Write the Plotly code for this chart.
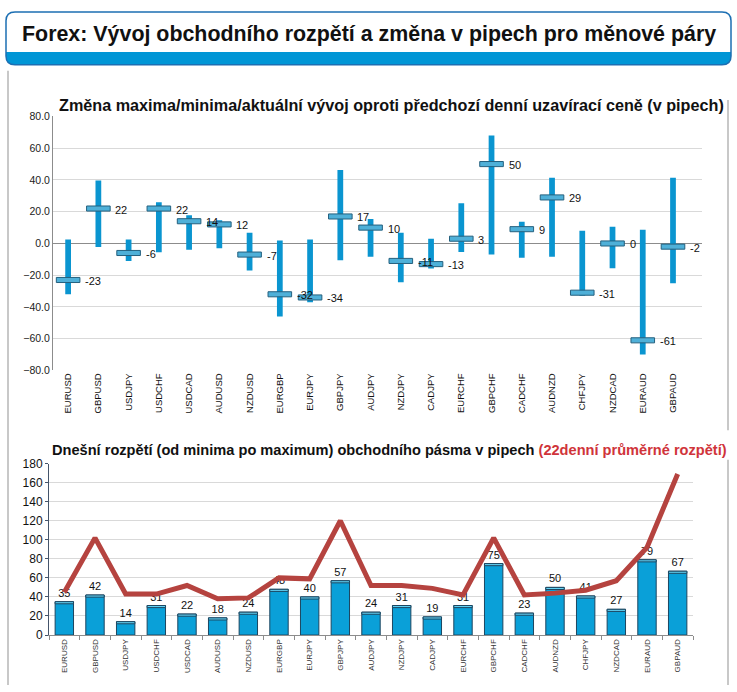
import plotly.graph_objects as go

W, H = 737, 692

pairs = ["EURUSD", "GBPUSD", "USDJPY", "USDCHF", "USDCAD", "AUDUSD", "NZDUSD",
         "EURGBP", "EURJPY", "GBPJPY", "AUDJPY", "NZDJPY", "CADJPY", "EURCHF",
         "GBPCHF", "CADCHF", "AUDNZD", "CHFJPY", "NZDCAD", "EURAUD", "GBPAUD"]

day_high = [2.5, 39.7, 2.5, 26, 17.7, 14.6, 6.8, 1.8, 2.5, 46.3, 15.4, 6.8, 3, 25.3,
            68, 13.6, 41.4, 8, 10.5, 8.6, 41.4]
day_low = [-32, -2.3, -11, -5.5, -4, -3, -17, -46, -37, -10.5, -8.4, -24.5, -15.8, -5.3,
           -7, -9, -8.4, -33, -15.6, -70, -25]
day_close = [-23, 22, -6, 22, 14, 12, -7, -32, -34, 17, 10, -11, -13, 3,
             50, 9, 29, -31, 0, -61, -2]

range_today = [35, 42, 14, 31, 22, 18, 24, 48, 40, 57, 24, 31, 19, 31, 75, 23, 50, 41, 27, 79, 67]
avg_range_22d = [45, 102, 43, 43, 52, 38, 39, 60, 59, 120, 52, 52, 49, 42, 102, 42, 44, 47, 57, 92, 169]

top_ticks = [-80, -60, -40, -20, 0, 20, 40, 60, 80]
bottom_ticks = [0, 20, 40, 60, 80, 100, 120, 140, 160, 180]

FONT = "Liberation Sans"


def px(x):
    return x / W


def py(y):
    return 1 - y / H


def rpath(x0, y0, x1, y1, r, top=True, bottom=True):
    rt = r if top else 0
    rb = r if bottom else 0
    p = f"M {px(x0 + rt)},{py(y0)} L {px(x1 - rt)},{py(y0)} "
    if rt:
        p += f"Q {px(x1)},{py(y0)} {px(x1)},{py(y0 + rt)} "
    p += f"L {px(x1)},{py(y1 - rb)} "
    if rb:
        p += f"Q {px(x1)},{py(y1)} {px(x1 - rb)},{py(y1)} "
    p += f"L {px(x0 + rb)},{py(y1)} "
    if rb:
        p += f"Q {px(x0)},{py(y1)} {px(x0)},{py(y1 - rb)} "
    p += f"L {px(x0)},{py(y0 + rt)} "
    if rt:
        p += f"Q {px(x0)},{py(y0)} {px(x0 + rt)},{py(y0)} "
    return p + "Z"


fig = go.Figure()

# ---- top chart: high/low range and close ----
fig.add_trace(go.Bar(
    x=pairs, y=[h - l for h, l in zip(day_high, day_low)], base=day_low,
    width=0.19, marker=dict(color="#0a95d0", line=dict(width=0)),
    xaxis="x", yaxis="y", hoverinfo="skip"))
fig.add_trace(go.Bar(
    x=pairs, y=[3.2] * len(pairs), base=[c - 1.6 for c in day_close],
    width=0.78, marker=dict(color="#4fb0d8", line=dict(color="#24607e", width=1)),
    xaxis="x", yaxis="y", hoverinfo="skip"))

# ---- bottom chart: today's range bars + 22-day average line ----
fig.add_trace(go.Bar(
    x=pairs, y=range_today, width=0.6,
    marker=dict(color="#0aa0d8", line=dict(color="#1d4660", width=1)),
    text=[str(v) for v in range_today], textposition="outside",
    textfont=dict(size=11, color="#111", family=FONT), cliponaxis=False,
    xaxis="x2", yaxis="y2", hoverinfo="skip"))
fig.add_trace(go.Bar(
    x=pairs, y=[2.2] * len(pairs), base=[v - 2.2 for v in range_today], width=0.6,
    marker=dict(color="#62d2f4", line=dict(color="#1d4660", width=1)),
    xaxis="x2", yaxis="y2", hoverinfo="skip"))
fig.add_trace(go.Scatter(
    x=pairs, y=avg_range_22d, mode="lines",
    line=dict(color="#b5433f", width=5),
    xaxis="x2", yaxis="y2", hoverinfo="skip"))

annotations = []
for p, c in zip(pairs, day_close):
    annotations.append(dict(
        x=p, y=c, xref="x", yref="y", text=str(c), showarrow=False,
        xanchor="left", yanchor="middle", xshift=15, yshift=-1,
        font=dict(size=11, color="#111", family=FONT)))

annotations.append(dict(
    x=px(20), y=py(28), xref="paper", yref="paper", xanchor="left", yanchor="middle",
    text="<b>Forex: Vývoj obchodního rozpětí a změna v pipech pro měnové páry</b>",
    showarrow=False, font=dict(size=21.4, color="#111", family=FONT)))
annotations.append(dict(
    x=px(57), y=py(100), xref="paper", yref="paper", xanchor="left", yanchor="middle",
    text="<b>Změna maxima/minima/aktuální vývoj oproti předchozí denní uzavírací ceně (v pipech)</b>",
    showarrow=False, font=dict(size=16.2, color="#111", family=FONT)))
annotations.append(dict(
    x=px(50), y=py(452), xref="paper", yref="paper", xanchor="left", yanchor="middle",
    text="<b>Dnešní rozpětí (od minima po maximum) obchodního pásma v pipech "
         "<span style='color:#d0343a'>(22denní průměrné rozpětí)</span></b>",
    showarrow=False, font=dict(size=14.6, color="#111", family=FONT)))

shapes = [
    dict(type="path", xref="paper", yref="paper", path=rpath(6, 5, 731, 59, 9),
         fillcolor="white", line=dict(width=0), layer="below"),
    dict(type="path", xref="paper", yref="paper", path=rpath(6, 46, 731, 59, 9, top=False),
         fillcolor="#0096d6", line=dict(width=0), layer="below"),
    dict(type="path", xref="paper", yref="paper", path=rpath(6, 5, 731, 59, 9),
         fillcolor="rgba(0,0,0,0)", line=dict(color="#1c6fb3", width=1.5), layer="above"),
    dict(type="line", xref="paper", yref="paper", x0=px(8), x1=px(8), y0=py(65), y1=py(692),
         line=dict(color="#c8c8c8", width=2)),
    dict(type="line", xref="paper", yref="paper", x0=px(728), x1=px(728), y0=py(95), y1=py(432),
         line=dict(color="#c8c8c8", width=2)),
    dict(type="line", xref="paper", yref="paper", x0=px(728), x1=px(728), y0=py(462), y1=py(692),
         line=dict(color="#c8c8c8", width=2)),
]

fig.update_layout(
    width=W, height=H, margin=dict(l=0, r=0, t=0, b=0),
    paper_bgcolor="white", plot_bgcolor="white",
    barmode="overlay", showlegend=False,
    font=dict(family=FONT, color="#111"),
    annotations=annotations, shapes=shapes,
    xaxis=dict(domain=[px(53), px(702)], type="category", showline=False, showgrid=False,
               tickangle=-90, tickfont=dict(size=9.5, color="#111"), ticks="",
               anchor="y", fixedrange=True),
    yaxis=dict(domain=[py(371), py(111.7)], range=[-80, 80], tickvals=top_ticks,
               tickformat=".1f", showgrid=True, gridcolor="#d9d9d9", gridwidth=1,
               zeroline=True, zerolinecolor="#8c8c8c", zerolinewidth=1,
               showline=True, linecolor="#8c8c8c", linewidth=1,
               tickfont=dict(size=10.5, color="#222"), anchor="x", fixedrange=True),
    xaxis2=dict(domain=[px(49), px(693)], type="category", showline=True,
                linecolor="#8c8c8c", linewidth=1, showgrid=False,
                ticks="outside", tickson="boundaries", ticklen=4, tickcolor="#8c8c8c",
                tickangle=-90, tickfont=dict(size=8, color="#333"),
                anchor="y2", fixedrange=True),
    yaxis2=dict(domain=[py(641), py(466)], range=[0, 180], tickvals=bottom_ticks,
                showgrid=True, gridcolor="#d9d9d9", gridwidth=1, zeroline=False,
                showline=True, linecolor="#44546a", linewidth=1,
                ticks="outside", ticklen=3, tickcolor="#44546a",
                tickfont=dict(size=12, color="#111"), anchor="x2", fixedrange=True),
)

fig.write_html(
    "out.html",
    config={"displayModeBar": False},
    post_script="document.body.style.margin='0';document.body.style.overflow='hidden';",
)
